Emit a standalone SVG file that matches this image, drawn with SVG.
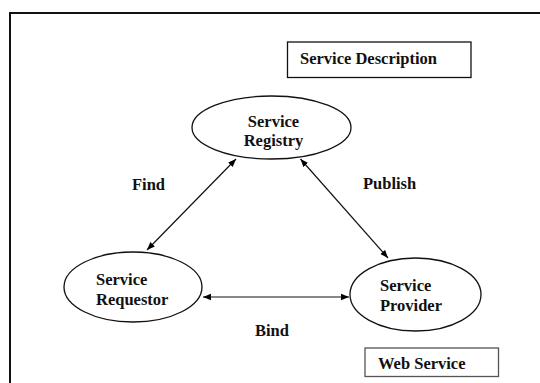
<svg xmlns="http://www.w3.org/2000/svg" width="540" height="383" viewBox="0 0 540 383">
<defs>
<marker id="ah" viewBox="0 0 10 10" refX="10" refY="5" markerWidth="8" markerHeight="8" markerUnits="userSpaceOnUse" orient="auto-start-reverse">
<path d="M0,1 L10,5 L0,9 z" fill="#000"/>
</marker>
</defs>
<style>
text{font-family:'Liberation Serif','Times New Roman','DejaVu Serif',serif;font-size:16.5px;font-weight:bold;fill:#111}
.n{fill:#fff;stroke:#111;stroke-width:1.3}
.c{stroke:#111;stroke-width:1.2;fill:none;marker-start:url(#ah);marker-end:url(#ah)}
</style>
<rect width="540" height="383" fill="#fff"/>
<path d="M10,383 L10,13 L540,13" fill="none" stroke="#111" stroke-width="2"/>
<g id="service-description">
<rect class="n" x="287.5" y="42" width="183.5" height="35.5"/>
<text x="300" y="64">Service Description</text>
</g>
<g id="web-service">
<rect class="n" x="365" y="348" width="133.5" height="28.5" style="stroke:#555"/>
<text x="378" y="369">Web Service</text>
</g>
<g id="connectors">
<line class="c" x1="236" y1="159" x2="147" y2="250"/>
<line class="c" x1="300.5" y1="159" x2="388" y2="258"/>
<line class="c" x1="203" y1="297" x2="349" y2="297"/>
<text x="132" y="189.5">Find</text>
<text x="363" y="189">Publish</text>
<text x="255" y="336">Bind</text>
</g>
<g id="service-registry">
<ellipse class="n" cx="271.5" cy="127.5" rx="79.5" ry="31.5"/>
<text x="273.5" y="127" text-anchor="middle">Service</text>
<text x="273.5" y="146" text-anchor="middle">Registry</text>
</g>
<g id="service-requestor">
<ellipse class="n" cx="133" cy="287" rx="69" ry="35"/>
<text x="96" y="285">Service</text>
<text x="96" y="305">Requestor</text>
</g>
<g id="service-provider">
<ellipse class="n" cx="415.5" cy="294.5" rx="65.5" ry="36.5"/>
<text x="380" y="291">Service</text>
<text x="380" y="311">Provider</text>
</g>
</svg>
